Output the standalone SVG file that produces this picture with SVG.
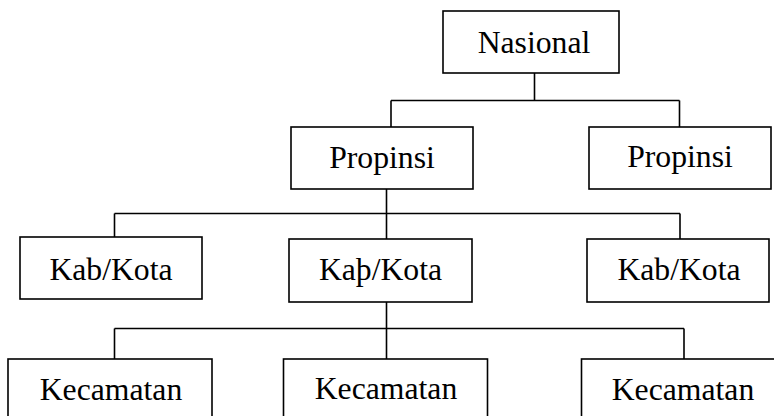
<svg xmlns="http://www.w3.org/2000/svg" width="774" height="416" viewBox="0 0 774 416">
<style>
.box{fill:#fff;stroke:#000;stroke-width:1.6}
.lbl{font-family:'Liberation Serif','Times New Roman',Times,'DejaVu Serif',serif;font-size:31.7px;fill:#000;text-anchor:middle}
.con{fill:none;stroke:#000;stroke-width:1.6}
</style>
<rect width="774" height="416" fill="#fff"/>
<g id="connectors">
<path class="con" d="M534.5 73V100.5M391 100.5H679.5M391 100.5V127M679.5 100.5V127"/>
<path class="con" d="M386.5 189V239M114.5 213.5H680M114.5 213.5V237M680 213.5V239"/>
<path class="con" d="M386.5 302V359M114.5 328.5H684M114.5 328.5V359M684 328.5V359"/>
</g>
<g id="nasional"><rect class="box" x="443" y="11" width="176" height="62"/><text class="lbl" x="534" y="52.5">Nasional</text></g>
<g id="propinsi1"><rect class="box" x="291" y="127" width="182" height="62"/><text class="lbl" x="382" y="167.5">Propinsi</text></g>
<g id="propinsi2"><rect class="box" x="589" y="127" width="182" height="62"/><text class="lbl" x="680" y="167">Propinsi</text></g>
<g id="kab1"><rect class="box" x="20" y="237" width="182" height="62"/><text class="lbl" x="111" y="279.5">Kab/Kota</text></g>
<g id="kab2"><rect class="box" x="289" y="239" width="183" height="63"/><text class="lbl" x="380.5" y="280">Kaþ/Kota</text></g>
<g id="kab3"><rect class="box" x="587" y="239" width="182" height="63"/><text class="lbl" x="679" y="280">Kab/Kota</text></g>
<g id="kec1"><rect class="box" x="8" y="359" width="204" height="70"/><text class="lbl" x="111" y="399.5">Kecamatan</text></g>
<g id="kec2"><rect class="box" x="283.5" y="359" width="204" height="70"/><text class="lbl" x="386" y="399">Kecamatan</text></g>
<g id="kec3"><rect class="box" x="581.5" y="359" width="204" height="70"/><text class="lbl" x="683" y="400">Kecamatan</text></g>
</svg>
